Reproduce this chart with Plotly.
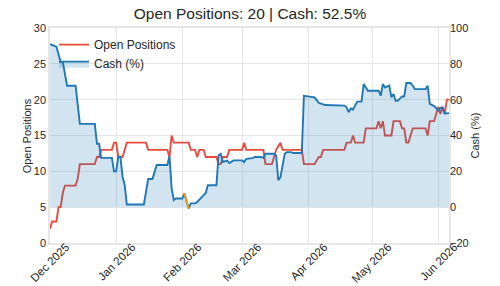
import pandas as pd
import plotly.graph_objects as go

start_date = "2025-12-01"

# Open positions: (day offset from start, count)
pos_days = [0, 1, 3, 4, 5, 6, 7, 12, 13, 14, 21, 22, 23, 24, 29, 30, 31, 32, 34, 35, 36,
            45, 46, 55, 56, 57, 58, 65, 66, 68, 69, 70, 72, 73, 78, 79, 80, 81, 83, 84,
            90, 91, 92, 100, 101, 104, 105, 106, 108, 109, 118, 119, 124, 126, 127, 128,
            138, 139, 141, 142, 143, 147, 148, 153, 154, 155, 156, 157, 160, 161, 164,
            165, 166, 167, 168, 170, 176, 177, 178, 180, 182, 183, 184, 185, 186, 187]
pos_vals = [2, 3, 3, 5, 5, 7, 8, 8, 9, 11, 11, 12, 12, 13, 13, 14, 14, 12, 12, 13, 14,
            14, 13, 13, 12, 15, 14, 14, 13, 13, 12, 13, 13, 12, 12, 11, 11, 12, 12, 13,
            13, 14, 13, 13, 11, 11, 12, 13, 14, 13, 13, 11, 11, 12, 12, 13,
            13, 14, 14, 15, 14, 14, 16, 16, 17, 16, 17, 15, 15, 17, 17,
            16, 16, 14, 14, 16, 16, 15, 17, 17, 19, 18, 19, 18, 20, 20]

# Cash (%): (day offset, percent)
cash_days = [0, 3, 5, 6, 8, 12, 14, 21, 22, 23, 24, 29, 30, 31, 32, 33, 34, 35, 36, 44,
             46, 48, 50, 55, 56, 57, 58, 59, 62, 63, 64, 65, 66, 68, 69, 70, 71, 72, 73,
             74, 78, 79, 80, 81, 83, 84, 86, 90, 91, 92, 95, 96, 99, 100, 101, 105, 106,
             107, 108, 110, 111, 113, 114, 118, 119, 124, 126, 129, 132, 134, 138, 139,
             140, 141, 142, 143, 144, 146, 147, 149, 154, 155, 156, 157, 159, 160, 161,
             162, 163, 165, 166, 167, 169, 170, 171, 176, 177, 178, 180, 182, 183, 184,
             185, 187]
cash_vals = [91, 89.6, 81, 81, 67.8, 67.8, 46.5, 46.5, 35.4, 35.4, 27.5, 27.5, 20, 20,
             28.2, 28.2, 17, 12.4, 1.5, 1.5, 15.7, 15.7, 23.5, 23.5, 28.5, 10.6, 3.9, 4.8,
             4.8, 7.6, 3.2, -0.7, 2.1, 2.1, 2.9, 4.4, 5.5, 6.7, 7.9, 12.2, 12.2, 28.9,
             29.8, 25.2, 26, 24.6, 26.1, 26.1, 25.2, 27, 27.4, 28, 28, 27.4, 29.8, 29.8,
             28.9, 15, 16.8, 29.8, 30.7, 30.7, 30.2, 30.2, 62.2, 61.3, 58.2, 57, 57, 56.7,
             56.7, 55.7, 53, 55.2, 54.4, 56.7, 58.9, 58.9, 68.7, 65, 65, 62.2, 68.7, 66.8,
             67.8, 61.3, 63.2, 59.4, 59.4, 61.8, 61.8, 69.3, 69.3, 67.8, 65.9, 65.9, 67.8,
             57.6, 56.4, 53.9, 55.5, 55.5, 52.3, 52.5]

# Highlighted (orange) cash segment
warn_days = [63, 64, 65]
warn_vals = [7.6, 3.2, -0.7]

month_ticks = ["2025-12-01", "2026-01-01", "2026-02-01", "2026-03-01",
               "2026-04-01", "2026-05-01", "2026-06-01"]
month_labels = ["Dec 2025", "Jan 2026", "Feb 2026", "Mar 2026",
                "Apr 2026", "May 2026", "Jun 2026"]

title_text = "Open Positions: 20 | Cash: 52.5%"
left_title = "Open Positions"
right_title = "Cash (%)"

t0 = pd.Timestamp(start_date)
to_dates = lambda days: [t0 + pd.Timedelta(days=d) for d in days]

RED = "#e74c3c"
BLUE = "#1f77b4"
ORANGE = "#f39c12"
FONT = "Liberation Sans, Arial, sans-serif"
TXT = "#262626"

fig = go.Figure()
fig.add_trace(go.Scatter(x=to_dates(pos_days), y=pos_vals, mode="lines",
                         name="Open Positions", line=dict(color=RED, width=1.9),
                         yaxis="y"))
fig.add_trace(go.Scatter(x=to_dates(cash_days), y=cash_vals, mode="lines",
                         name="Cash (%)", line=dict(color=BLUE, width=1.9),
                         fill="tozeroy", fillcolor="rgba(31,119,180,0.2)",
                         yaxis="y2"))
fig.add_trace(go.Scatter(x=to_dates(warn_days), y=warn_vals, mode="lines",
                         showlegend=False, line=dict(color=ORANGE, width=1.9),
                         yaxis="y2"))

grid = "#e6e6e6"
fig.update_layout(
    width=500, height=286,
    margin=dict(l=50, r=51, t=28, b=43),
    paper_bgcolor="white", plot_bgcolor="white",
    font=dict(family=FONT, size=11, color=TXT),
    title=dict(text=title_text, x=0.5, xanchor="center", y=0.972, yanchor="top",
               font=dict(size=15.5, color=TXT)),
    showlegend=True,
    legend=dict(x=0.01, y=0.99, xanchor="left", yanchor="top",
                bgcolor="rgba(255,255,255,0)", font=dict(size=12),
                tracegroupgap=0),
    xaxis=dict(type="date", range=[t0, t0 + pd.Timedelta(days=187)],
               tickvals=month_ticks, ticktext=month_labels, tickangle=-45,
               ticklabelshift=16, ticklabelstandoff=-9,
               tickfont=dict(size=11.5),
               showgrid=True, gridcolor=grid, showline=True, linecolor=grid,
               linewidth=1.5, mirror=True, zeroline=False, ticks="",
               automargin=False),
    yaxis=dict(range=[0, 30], dtick=5, showgrid=True, gridcolor=grid,
               zeroline=False, showline=True, linecolor=grid, linewidth=1.5,
               mirror=True, ticks="", automargin=False),
    yaxis2=dict(range=[-20, 100], dtick=20, overlaying="y", side="right",
                showgrid=False, zeroline=False, ticks="", automargin=False),
    annotations=[
        dict(text=left_title, xref="paper", yref="paper", x=-0.058, y=0.5,
             xanchor="center", yanchor="middle", textangle=-90, showarrow=False,
             font=dict(size=11, color=TXT)),
        dict(text=right_title, xref="paper", yref="paper", x=1.0627, y=0.5,
             xanchor="center", yanchor="middle", textangle=-90, showarrow=False,
             font=dict(size=11, color=TXT)),
    ],
)

fig.write_html("out.html")
